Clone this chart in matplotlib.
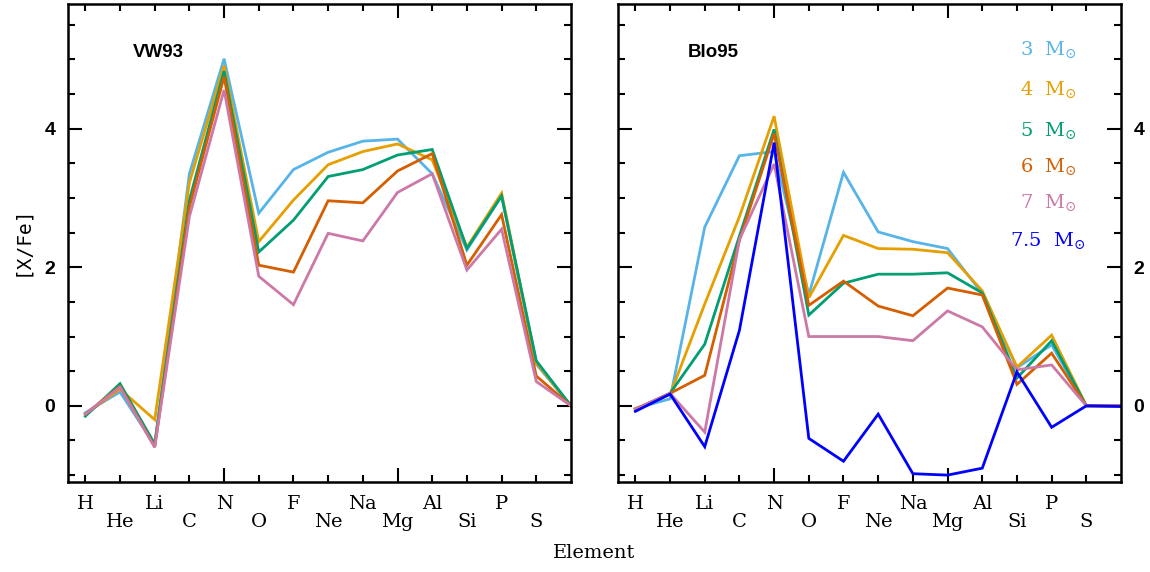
import matplotlib
matplotlib.use("Agg")
import matplotlib.pyplot as plt
from matplotlib.ticker import MultipleLocator

plt.rcParams['mathtext.fontset'] = 'dejavuserif'

elements = ['H', 'He', 'Li', 'C', 'N', 'O', 'F', 'Ne', 'Na', 'Mg', 'Al', 'Si', 'P', 'S']
xpos = list(range(1, 16))  # 14 elements + one trailing point

masses = ['3', '4', '5', '6', '7', '7.5']
colors = ['#56B4E9', '#E69F00', '#009E73', '#D55E00', '#CC79A7', '#0000FF']

# VW93 panel
vw_3 = [-0.10, 0.20, -0.57, 3.35, 5.01, 2.78, 3.41, 3.66, 3.82, 3.85, 3.35, 2.25, 3.03, 0.60, 0.0]
vw_4 = [-0.12, 0.24, -0.20, 3.22, 4.91, 2.37, 2.97, 3.48, 3.67, 3.78, 3.55, 2.29, 3.07, 0.62, 0.0]
vw_5 = [-0.15, 0.32, -0.55, 2.97, 4.83, 2.22, 2.68, 3.31, 3.41, 3.62, 3.70, 2.27, 3.03, 0.65, 0.0]
vw_6 = [-0.12, 0.28, -0.59, 2.87, 4.75, 2.03, 1.93, 2.96, 2.93, 3.39, 3.64, 2.03, 2.76, 0.43, 0.0]
vw_7 = [-0.12, 0.27, -0.60, 2.73, 4.56, 1.87, 1.46, 2.49, 2.38, 3.08, 3.35, 1.96, 2.55, 0.35, 0.0]

# Blo95 panel
bl_3 = [-0.04, 0.10, 2.58, 3.61, 3.67, 1.60, 3.37, 2.51, 2.37, 2.27, 1.62, 0.55, 0.88, 0.0, 0.0]
bl_4 = [-0.04, 0.16, 1.47, 2.73, 4.18, 1.56, 2.46, 2.27, 2.26, 2.21, 1.66, 0.56, 1.02, 0.0, 0.0]
bl_5 = [-0.05, 0.18, 0.89, 2.45, 3.99, 1.31, 1.77, 1.90, 1.90, 1.92, 1.63, 0.40, 0.94, 0.0, 0.0]
bl_6 = [-0.05, 0.18, 0.44, 2.39, 3.93, 1.45, 1.80, 1.44, 1.30, 1.70, 1.60, 0.31, 0.76, 0.0, 0.0]
bl_7 = [-0.05, 0.18, -0.38, 2.40, 3.49, 1.00, 1.00, 1.00, 0.94, 1.37, 1.14, 0.52, 0.59, 0.0, 0.0]
bl_75 = [-0.08, 0.17, -0.59, 1.09, 3.80, -0.47, -0.80, -0.12, -0.98, -1.00, -0.90, 0.49, -0.31, 0.0, -0.01]

vw_series = [vw_3, vw_4, vw_5, vw_6, vw_7]
bl_series = [bl_3, bl_4, bl_5, bl_6, bl_7, bl_75]

legend_y = [5.15, 4.57, 3.98, 3.46, 2.94, 2.39]

fig = plt.figure(figsize=(11.5, 5.72), dpi=100)
axL = fig.add_axes([0.0591, 0.1573, 0.4374, 0.8357])
axR = fig.add_axes([0.5374, 0.1573, 0.4374, 0.8357])

serif = 'DejaVu Serif'
sans = 'Liberation Sans'

major_x = [5, 10]
minor_x = [i for i in range(1, 15) if i not in major_x]


def lab(i):
    name = elements[i - 1]
    return name if i % 2 == 1 else '\n' + name


def style(ax, right_labels):
    ax.set_xlim(0.5, 15)
    ax.set_ylim(-1.1, 5.8)
    ax.set_xticks(major_x, [lab(i) for i in major_x])
    ax.set_xticks(minor_x, [lab(i) for i in minor_x], minor=True)
    ax.yaxis.set_major_locator(MultipleLocator(2))
    ax.yaxis.set_minor_locator(MultipleLocator(0.5))
    ax.tick_params(axis='both', which='both', direction='in', top=True, right=True,
                   width=1.5, colors='black')
    ax.tick_params(axis='both', which='major', length=10)
    ax.tick_params(axis='both', which='minor', length=5)
    ax.tick_params(axis='x', which='both', pad=9, labelsize=14)
    ax.tick_params(axis='y', which='both', pad=9, labelsize=14,
                   labelleft=not right_labels, labelright=right_labels)
    for t in ax.get_xticklabels(which='both'):
        t.set_family(serif)
        t.set_linespacing(1.0)
    for t in ax.get_yticklabels():
        t.set_family(sans)
        t.set_fontweight('bold')
    for s in ax.spines.values():
        s.set_linewidth(1.8)


for vals, c in zip(vw_series, colors):
    axL.plot(xpos, vals, color=c, lw=2.0, solid_joinstyle='miter')
for vals, c in zip(bl_series, colors):
    axR.plot(xpos, vals, color=c, lw=2.0, solid_joinstyle='miter')

style(axL, False)
style(axR, True)

axL.text(3.1, 5.1, 'VW93', fontsize=13.5, fontweight='bold', family=sans, ha='center', va='center')
axR.text(3.25, 5.1, 'Blo95', fontsize=13.5, fontweight='bold', family=sans, ha='center', va='center')

for m, c, y in zip(masses, colors, legend_y):
    axR.text(12.9, y, m + r'  M$_{\odot}$', color=c, fontsize=14, family=serif,
             ha='center', va='center')

fig.text(594.5 / 1150, 1 - 553 / 572, 'Element', fontsize=14, family=serif, ha='center', va='center')
fig.text(22 / 1150, 1 - 241 / 572, '[X/Fe]', fontsize=14, family='DejaVu Sans Mono', rotation=90,
         ha='center', va='center')

fig.savefig('out.png', dpi=100)
